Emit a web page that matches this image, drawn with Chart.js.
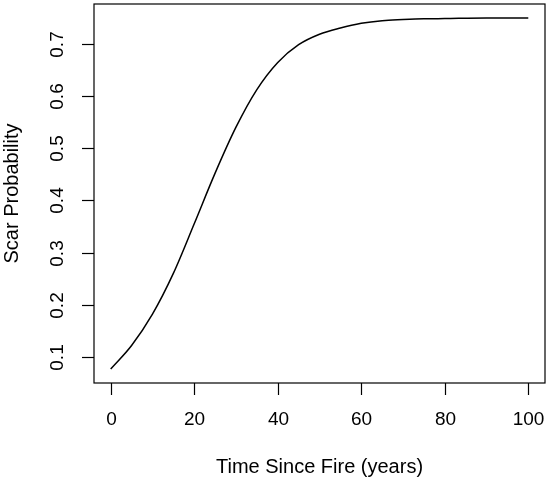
<!DOCTYPE html>
<html>
<head>
<meta charset="utf-8">
<script src="https://cdn.jsdelivr.net/npm/chart.js@4"></script>
<style>
  body { margin: 0; background: #fff; }
  canvas { display: block; }
</style>
</head>
<body>
<canvas id="scarChart" width="550" height="481"></canvas>
<script>
// values
var yearsSinceFire = [0, 5, 10, 15, 20, 25, 30, 35, 40, 45, 50, 55, 60, 65, 70, 75, 80, 90, 100];
var scarProbability = [0.077, 0.122, 0.182, 0.260, 0.355, 0.452, 0.540, 0.612, 0.664, 0.698, 0.718, 0.730, 0.739, 0.744, 0.746, 0.7475, 0.748, 0.749, 0.749];

var xTicks = [0, 20, 40, 60, 80, 100];
var yTicks = [0.1, 0.2, 0.3, 0.4, 0.5, 0.6, 0.7];
var xTitle = 'Time Since Fire (years)';
var yTitle = 'Scar Probability';

var TICK_FONT = '19px "Liberation Sans", Arial, sans-serif';
var TITLE_FONT = '20px "Liberation Sans", Arial, sans-serif';

// R style frame, ticks and labels, drawn from the chart's own scales
var rAxes = {
    id: 'rAxes',
    afterDraw: function (chart) {
        var c = chart.ctx;
        var area = chart.chartArea;
        var xs = chart.scales.x;
        var ys = chart.scales.y;
        c.save();
        c.strokeStyle = '#000';
        c.fillStyle = '#000';
        c.lineWidth = 1.2;
        c.strokeRect(area.left, area.top, area.right - area.left, area.bottom - area.top);

        c.font = TICK_FONT;
        c.textAlign = 'center';
        c.textBaseline = 'middle';
        xTicks.forEach(function (v) {
            var px = Math.round(xs.getPixelForValue(v)) + 0.5;
            c.beginPath();
            c.moveTo(px, area.bottom);
            c.lineTo(px, area.bottom + 12);
            c.stroke();
            c.fillText(String(v), px, 420);
        });
        yTicks.forEach(function (v) {
            var py = Math.round(ys.getPixelForValue(v)) + 0.5;
            c.beginPath();
            c.moveTo(area.left - 12, py);
            c.lineTo(area.left, py);
            c.stroke();
            c.save();
            c.translate(58, py);
            c.rotate(-Math.PI / 2);
            c.fillText(v.toFixed(1), 0, 0);
            c.restore();
        });

        c.font = TITLE_FONT;
        c.fillText(xTitle, (area.left + area.right) / 2, 467);
        c.save();
        c.translate(12, (area.top + area.bottom) / 2);
        c.rotate(-Math.PI / 2);
        c.fillText(yTitle, 0, 0);
        c.restore();
        c.restore();
    }
};

var points = yearsSinceFire.map(function (x, i) {
    return { x: x, y: scarProbability[i] };
});

new Chart(document.getElementById('scarChart'), {
    type: 'line',
    data: {
        datasets: [{
            data: points,
            borderColor: '#000',
            borderWidth: 1.5,
            pointRadius: 0,
            fill: false,
            cubicInterpolationMode: 'monotone'
        }]
    },
    options: {
        responsive: false,
        animation: false,
        layout: { padding: { left: 94, top: 4, right: 5, bottom: 98 } },
        plugins: { legend: { display: false }, tooltip: { enabled: false } },
        scales: {
            x: { type: 'linear', min: -4, max: 104, display: false },
            y: { type: 'linear', min: 0.0501, max: 0.7759, display: false }
        }
    },
    plugins: [rAxes]
});
</script>
</body>
</html>
